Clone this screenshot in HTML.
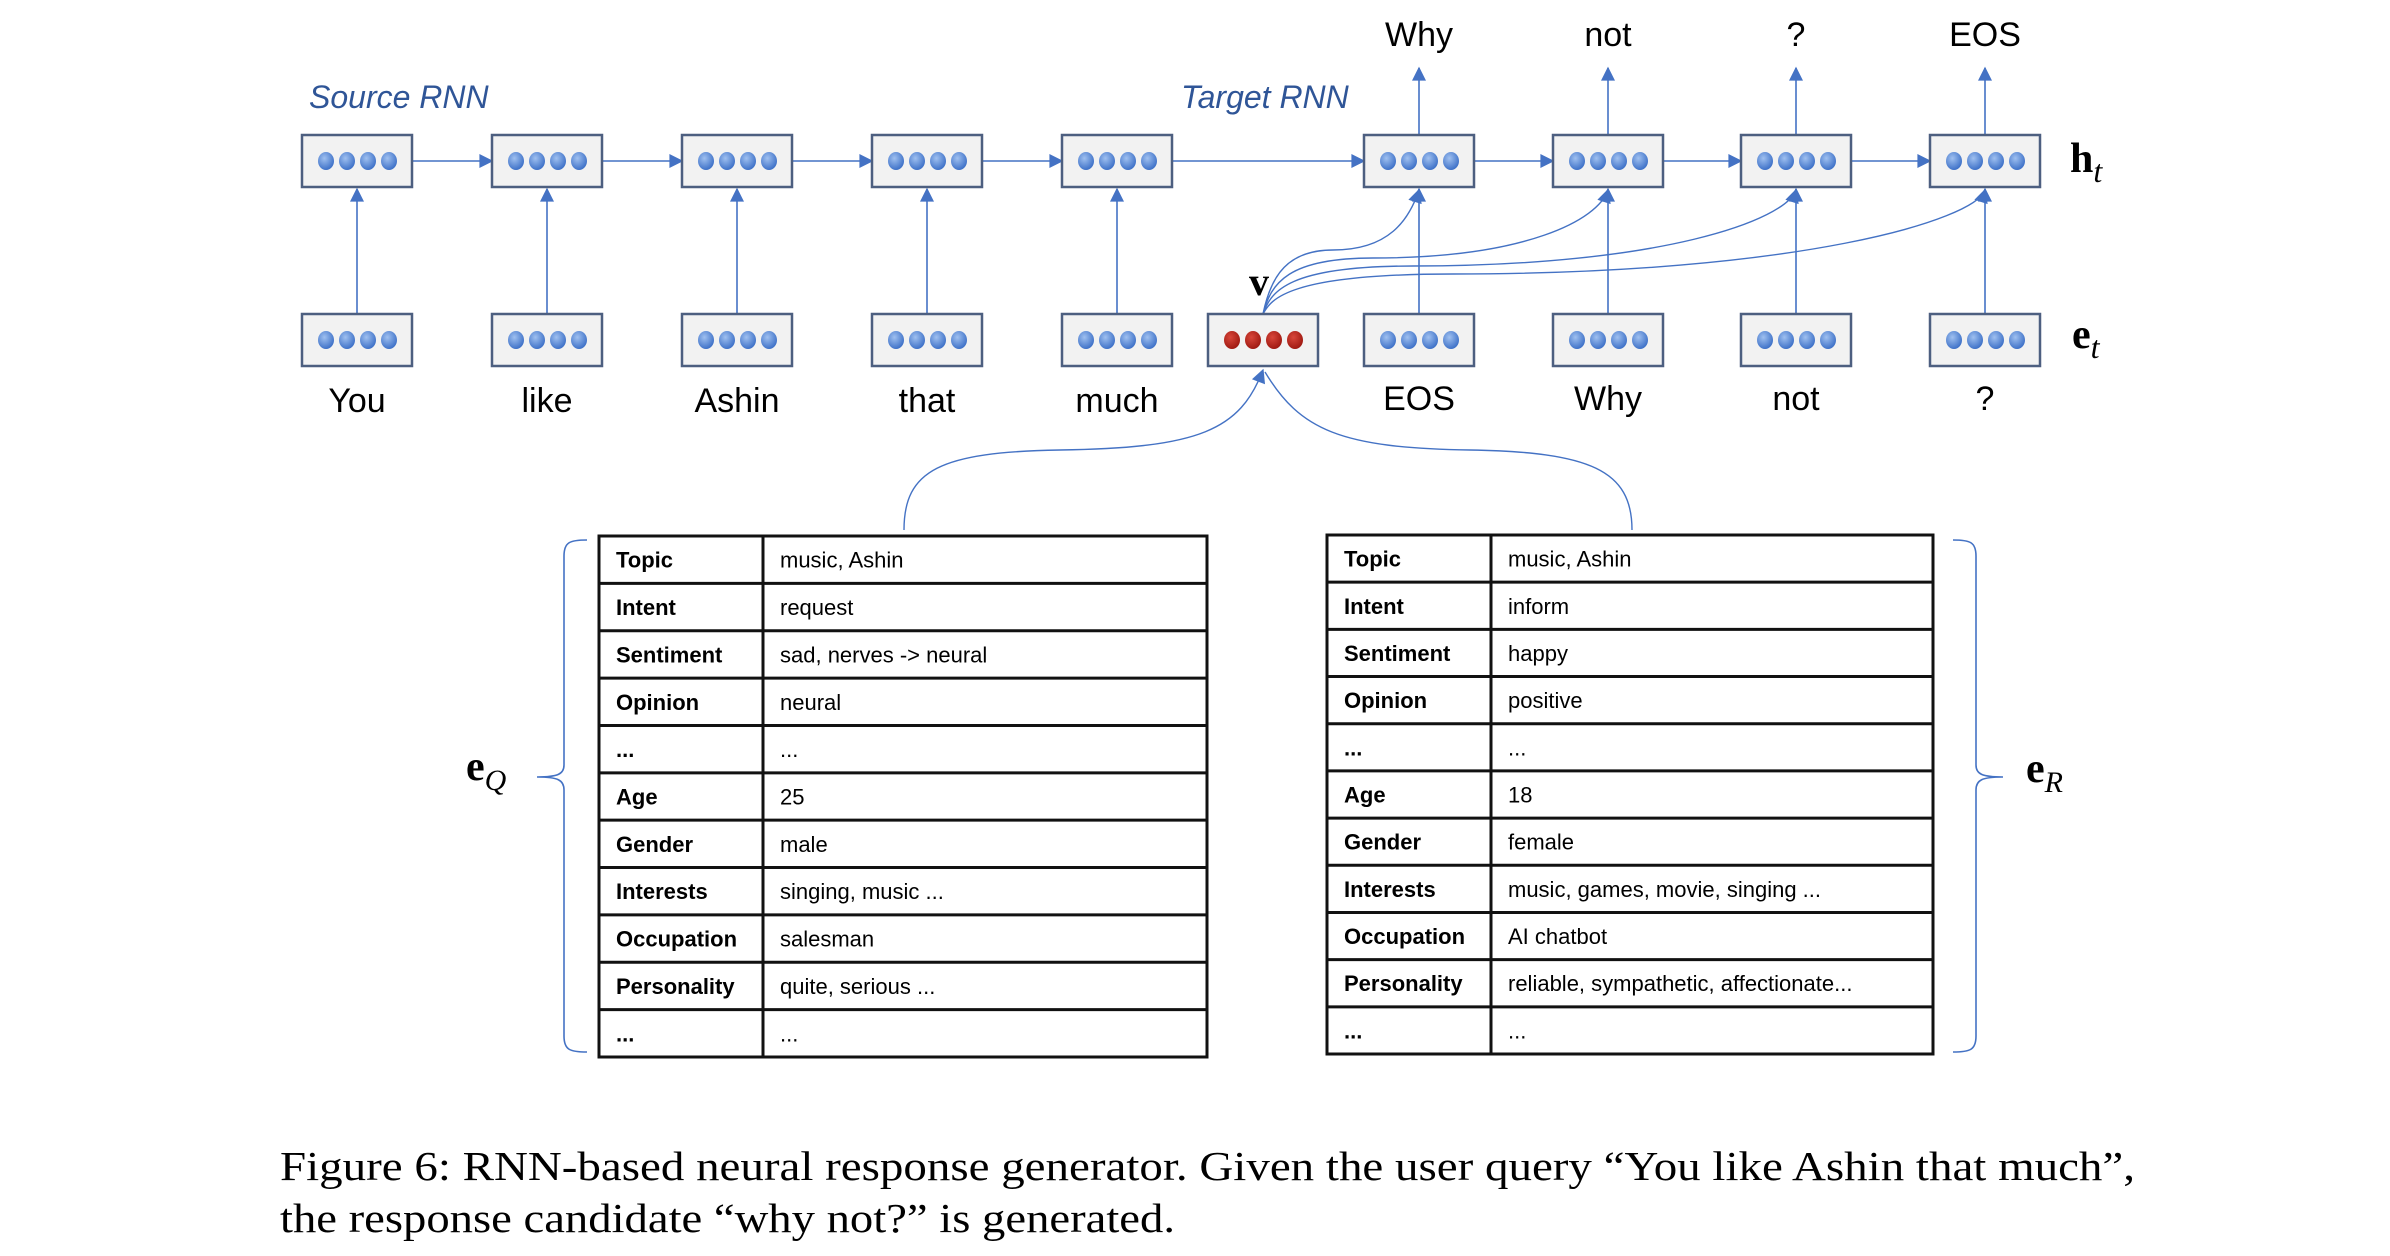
<!DOCTYPE html>
<html><head><meta charset="utf-8"><style>
html,body{margin:0;padding:0;background:#fff;}
svg{display:block;}
</style></head><body>
<svg id="fig" width="2390" height="1256" viewBox="0 0 2390 1256" xmlns="http://www.w3.org/2000/svg">
<defs>
<radialGradient id="bd" cx="40%" cy="35%" r="65%"><stop offset="0" stop-color="#9fc0f0"/><stop offset="1" stop-color="#3f72c8"/></radialGradient>
<radialGradient id="rd" cx="40%" cy="35%" r="65%"><stop offset="0" stop-color="#d8463a"/><stop offset="1" stop-color="#a01a12"/></radialGradient>
<marker id="ah" viewBox="0 0 10 10" refX="9" refY="5" markerUnits="userSpaceOnUse" markerWidth="17" markerHeight="14" orient="auto"><path d="M0,0 L10,5 L0,10 z" fill="#4472c4"/></marker>
</defs>
<g id="lines"></g>
<g id="boxes"></g>
<g id="texts" font-family="'Liberation Sans',sans-serif"></g>
<g id="tables" font-family="'Liberation Sans',sans-serif"></g>
<text x="309" y="108" font-family="'Liberation Sans',sans-serif" font-style="italic" font-size="32" fill="#2f5597">Source RNN</text>
<text x="1181" y="108" font-family="'Liberation Sans',sans-serif" font-style="italic" font-size="32" fill="#2f5597">Target RNN</text>
<text x="2070" y="172" font-family="'Liberation Serif',serif" font-weight="bold" font-size="42">h<tspan font-weight="normal" font-style="italic" font-size="32" dy="10">t</tspan></text>
<text x="2072" y="348" font-family="'Liberation Serif',serif" font-weight="bold" font-size="42">e<tspan font-weight="normal" font-style="italic" font-size="32" dy="10">t</tspan></text>
<text x="1249" y="295" font-family="'Liberation Serif',serif" font-weight="bold" font-size="40">v</text>
<text x="466" y="780" font-family="'Liberation Serif',serif" font-weight="bold" font-size="42">e<tspan font-weight="normal" font-style="italic" font-size="30" dy="10">Q</tspan></text>
<text x="2026" y="782" font-family="'Liberation Serif',serif" font-weight="bold" font-size="42">e<tspan font-weight="normal" font-style="italic" font-size="30" dy="10">R</tspan></text>
<path d="M587,540 C570,540 564,542 564,556 L564,765 C564,774 558,777 537,777 C558,777 564,780 564,790 L564,1036 C564,1050 570,1052 587,1052" fill="none" stroke="#4472c4" stroke-width="1.6"/>
<path d="M1953,540 C1970,540 1976,542 1976,556 L1976,765 C1976,774 1982,777 2003,777 C1982,777 1976,780 1976,790 L1976,1036 C1976,1050 1970,1052 1953,1052" fill="none" stroke="#4472c4" stroke-width="1.6"/>
<text x="280" y="1180" font-family="'Liberation Serif',serif" font-size="41" textLength="1855" lengthAdjust="spacingAndGlyphs">Figure 6: RNN-based neural response generator. Given the user query “You like Ashin that much”,</text>
<text x="280" y="1232" font-family="'Liberation Serif',serif" font-size="41" textLength="895" lengthAdjust="spacingAndGlyphs">the response candidate “why not?” is generated.</text>
</svg>
<script>
const sourceWords = ["You","like","Ashin","that","much"];
const targetInputs = ["EOS","Why","not","?"];
const targetOutputs = ["Why","not","?","EOS"];
const leftRows = [["Topic","music, Ashin"],["Intent","request"],["Sentiment","sad, nerves -> neural"],["Opinion","neural"],["...","..."],["Age","25"],["Gender","male"],["Interests","singing, music ..."],["Occupation","salesman"],["Personality","quite, serious ..."],["...","..."]];
const rightRows = [["Topic","music, Ashin"],["Intent","inform"],["Sentiment","happy"],["Opinion","positive"],["...","..."],["Age","18"],["Gender","female"],["Interests","music, games, movie, singing ..."],["Occupation","AI chatbot"],["Personality","reliable, sympathetic, affectionate..."],["...","..."]];

const NS="http://www.w3.org/2000/svg";
function mk(parent,tag,attrs){const e=document.createElementNS(NS,tag);for(const k in attrs)e.setAttribute(k,attrs[k]);document.getElementById(parent).appendChild(e);return e;}
const BW=110,BH=52,TOPY=135,BOTY=314;
const srcX=[302,492,682,872,1062], vX=1208, tgtX=[1364,1553,1741,1930];
function box(x,y,red,name){
  const g=document.createElementNS(NS,'g');
  
  
  document.getElementById('boxes').appendChild(g);
  const r=document.createElementNS(NS,'rect');
  r.setAttribute('x',x);r.setAttribute('y',y);r.setAttribute('width',BW);r.setAttribute('height',BH);
  r.setAttribute('fill','#f2f2f2');r.setAttribute('stroke','#4d5f80');r.setAttribute('stroke-width','2.5');
  g.appendChild(r);
  for(let i=0;i<4;i++){const c=document.createElementNS(NS,'ellipse');
    c.setAttribute('cx',x+24+i*21);c.setAttribute('cy',y+BH/2);c.setAttribute('rx',8);c.setAttribute('ry',9);
    c.setAttribute('fill',red?'url(#rd)':'url(#bd)');g.appendChild(c);}
}
function line(x1,y1,x2,y2,name){const l=mk('lines','line',{x1,y1,x2,y2,stroke:'#4472c4','stroke-width':1.6,'marker-end':'url(#ah)'});
  
  }
function txt(x,y,s,name,size){const t=mk('texts','text',{x,y,'text-anchor':'middle','font-size':size||34});t.textContent=s;
  
  }
sourceWords.forEach((w,i)=>{const x=srcX[i];
  box(x,TOPY,false,'source-hidden-'+w.toLowerCase());
  box(x,BOTY,false,'source-embed-'+w.toLowerCase());
  line(x+BW/2,BOTY,x+BW/2,TOPY+BH+2,'source-input-arrow');
  txt(x+BW/2,412,w,'source-word-'+w.toLowerCase());
});
const hx=[...srcX,...tgtX];
for(let i=0;i<hx.length-1;i++) line(hx[i]+BW,TOPY+BH/2,hx[i+1],TOPY+BH/2,'recurrent-arrow');
box(vX,BOTY,true,'context-vector-v');
targetInputs.forEach((w,i)=>{const x=tgtX[i];
  box(x,TOPY,false,'target-hidden');
  box(x,BOTY,false,'target-embed');
  line(x+BW/2,BOTY,x+BW/2,TOPY+BH+2,'target-input-arrow');
  line(x+BW/2,TOPY,x+BW/2,68,'target-output-arrow');
  txt(x+BW/2,410,w,'target-input-word');
  txt(x+BW/2,46,targetOutputs[i],'target-output-word');
});
const vx=vX+BW/2, vy=BOTY;
tgtX.forEach((x,i)=>{const ex=x+BW/2, ey=TOPY+BH+3;
  const Y=250+i*8;
  const bx=vx+70+i*40;
  const p=mk('lines','path',{d:`M${vx},${vy} C${vx+8},${Y+25} ${vx+25},${Y} ${bx},${Y} C${ex-(ex-bx)*0.35},${Y} ${ex-10},${ey+30} ${ex},${ey}`,fill:'none',stroke:'#4472c4','stroke-width':1.4,'marker-end':'url(#ah)'});
  
  
});
const c1=mk('lines','path',{d:`M904,530 C904,470 940,452 1060,450 C1200,448 1240,430 ${vx},${BOTY+BH+4}`,fill:'none',stroke:'#4472c4','stroke-width':1.4,'marker-end':'url(#ah)'});


const c2=mk('lines','path',{d:`M1632,530 C1632,470 1590,452 1470,450 C1340,448 1300,430 ${vx+2},${BOTY+BH+6}`,fill:'none',stroke:'#4472c4','stroke-width':1.4});


function table(rows,x0,x1,xs,y0,y1,name){
  const rh=(y1-y0)/rows.length;
  const g=document.createElementNS(NS,'g');
  
  
  document.getElementById('tables').appendChild(g);
  rows.forEach((r,i)=>{const y=y0+i*rh;
    const ln=document.createElementNS(NS,'line');ln.setAttribute('x1',x0);ln.setAttribute('x2',x1);ln.setAttribute('y1',y);ln.setAttribute('y2',y);ln.setAttribute('stroke','#111');ln.setAttribute('stroke-width','3');g.appendChild(ln);
    const a=document.createElementNS(NS,'text');a.setAttribute('x',x0+17);a.setAttribute('y',y+rh/2+8);a.setAttribute('font-size','22');a.setAttribute('font-weight','bold');a.textContent=r[0];
    
    
    g.appendChild(a);
    const b=document.createElementNS(NS,'text');b.setAttribute('x',xs+17);b.setAttribute('y',y+rh/2+8);b.setAttribute('font-size','22');b.textContent=r[1];
    
    
    g.appendChild(b);
  });
  const rc=document.createElementNS(NS,'rect');rc.setAttribute('x',x0);rc.setAttribute('y',y0);rc.setAttribute('width',x1-x0);rc.setAttribute('height',y1-y0);rc.setAttribute('fill','none');rc.setAttribute('stroke','#111');rc.setAttribute('stroke-width','3');g.appendChild(rc);
  const vl=document.createElementNS(NS,'line');vl.setAttribute('x1',xs);vl.setAttribute('x2',xs);vl.setAttribute('y1',y0);vl.setAttribute('y2',y1);vl.setAttribute('stroke','#111');vl.setAttribute('stroke-width','3');g.appendChild(vl);
}
table(leftRows,599,1207,763,536,1057,'query-attribute-table');
table(rightRows,1327,1933,1491,535,1054,'response-attribute-table');
</script>
</body></html>
